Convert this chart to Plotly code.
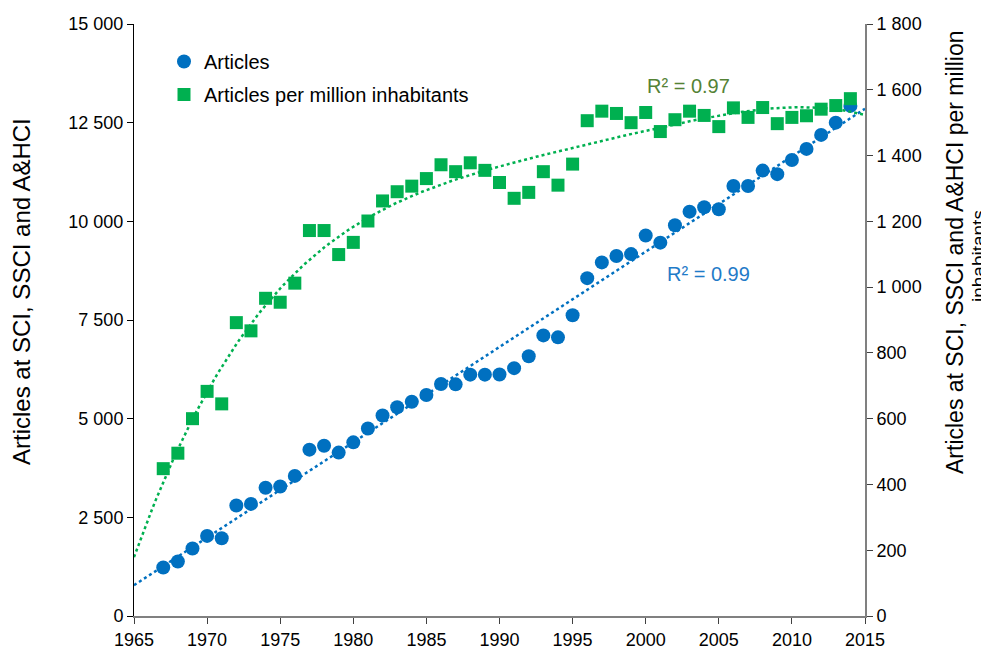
import numpy as np
import plotly.graph_objects as go

years = list(range(1967, 2015))
articles = [1230, 1380, 1710, 2030, 1970, 2800, 2840, 3250, 3280, 3550,
            4215, 4315, 4140, 4400, 4750, 5080, 5290, 5430, 5600, 5880,
            5870, 6115, 6115, 6120, 6280, 6580, 7110, 7060, 7620, 8560,
            8960, 9120, 9170, 9640, 9460, 9900, 10245, 10355, 10305, 10895,
            10895, 11285, 11195, 11555, 11835, 12190, 12500, 12925]
per_million = [448, 495, 600, 683, 645, 892, 867, 966, 954, 1012,
               1172, 1172, 1099, 1136, 1201, 1262, 1290, 1307, 1330, 1372,
               1351, 1378, 1355, 1318, 1270, 1288, 1351, 1310, 1374, 1506,
               1535, 1528, 1500, 1531, 1473, 1509, 1535, 1522, 1488, 1545,
               1516, 1546, 1497, 1516, 1521, 1541, 1552, 1573]
x_ticks = [1965, 1970, 1975, 1980, 1985, 1990, 1995, 2000, 2005, 2010, 2015]
left_ticks = [0, 2500, 5000, 7500, 10000, 12500, 15000]
right_ticks = [0, 200, 400, 600, 800, 1000, 1200, 1400, 1600, 1800]
r2_articles = "R² = 0.99"
r2_per_million = "R² = 0.97"

BLUE = "#0070C0"
GREEN = "#00B050"
OLIVE = "#548235"
FONT = "Liberation Sans, Arial, sans-serif"

# Trendlines fitted from the data (linear; polynomial order 4), extended over 1965-2015
xs = np.array(years, dtype=float) - 1990
xt = np.linspace(1965, 2015, 201)
lin = np.polyfit(xs, np.array(articles, float), 1)
poly = np.polyfit(xs, np.array(per_million, float), 4)
trend_a = np.polyval(lin, xt - 1990)
trend_p = np.polyval(poly, xt - 1990)

# page body has an 8px margin: figure placed at (8, 8)
W, H = 981, 662
L, R, T, B = 126, 124, 16, 54
PW, PH = W - L - R, H - T - B


def px(xpage):
    return (xpage - 8 - L) / PW


def py(ypage):
    return 1 - (ypage - 8 - T) / PH


fig = go.Figure()
fig.add_trace(go.Scatter(x=xt, y=trend_a, mode="lines", showlegend=False,
                         line=dict(color=BLUE, width=2.5, dash="dot"), hoverinfo="skip"))
fig.add_trace(go.Scatter(x=xt, y=trend_p, mode="lines", showlegend=False, yaxis="y2",
                         line=dict(color=GREEN, width=2.5, dash="dot"), hoverinfo="skip"))
fig.add_trace(go.Scatter(x=years, y=articles, mode="markers", name="Articles",
                         marker=dict(symbol="circle", size=14, color=BLUE), legend="legend"))
fig.add_trace(go.Scatter(x=years, y=per_million, mode="markers", yaxis="y2",
                         name="Articles per million inhabitants",
                         marker=dict(symbol="square", size=13, color=GREEN), legend="legend2"))

common = dict(xref="paper", yref="paper", showarrow=False, xanchor="center", yanchor="middle")

fig.update_layout(
    width=W, height=H,
    margin=dict(l=L, r=R, t=T, b=B, autoexpand=False),
    paper_bgcolor="white", plot_bgcolor="white",
    font=dict(family=FONT, size=18, color="black"),
    separators=". ",
    xaxis=dict(range=[1965, 2015], tickvals=x_ticks, showgrid=False, zeroline=False,
               showline=True, linecolor="#808080", linewidth=2, ticks="outside",
               ticklen=6, tickcolor="#404040", tickfont=dict(size=18), automargin=False),
    yaxis=dict(range=[0, 15000], tickvals=left_ticks, tickformat=",d", showgrid=False,
               zeroline=False, showline=True, linecolor="black", linewidth=1,
               ticks="outside", ticklen=6, tickcolor="black", tickfont=dict(size=18),
               automargin=False),
    yaxis2=dict(range=[0, 1800], tickvals=right_ticks, tickformat=",d", overlaying="y",
                side="right", showgrid=False, zeroline=False, showline=True,
                linecolor="#808080", linewidth=2, ticks="outside", ticklen=6,
                tickcolor="#404040", tickfont=dict(size=18), automargin=False),
    legend=dict(x=px(164), y=py(42), xanchor="left", yanchor="top", bgcolor="rgba(0,0,0,0)",
                font=dict(size=20), itemwidth=30),
    legend2=dict(x=px(164), y=py(75), xanchor="left", yanchor="top", bgcolor="rgba(0,0,0,0)",
                 font=dict(size=20), itemwidth=30),
    annotations=[
        dict(text="Articles at SCI, SSCI and A&HCI", textangle=-90,
             x=px(22), y=py(292), font=dict(size=24), **common),
        dict(text="Articles at SCI, SSCI and A&HCI per million", textangle=-90,
             x=px(955), y=py(252), font=dict(size=23), **common),
        dict(text="inhabitants", textangle=-90,
             x=px(978), y=py(256), font=dict(size=19), **common),
        dict(text=r2_per_million, x=px(688), y=py(86),
             font=dict(size=20, color=OLIVE), **common),
        dict(text=r2_articles, x=px(708), y=py(274),
             font=dict(size=20, color="#1F7BC8"), **common),
    ],
)

fig.write_html("out.html")
